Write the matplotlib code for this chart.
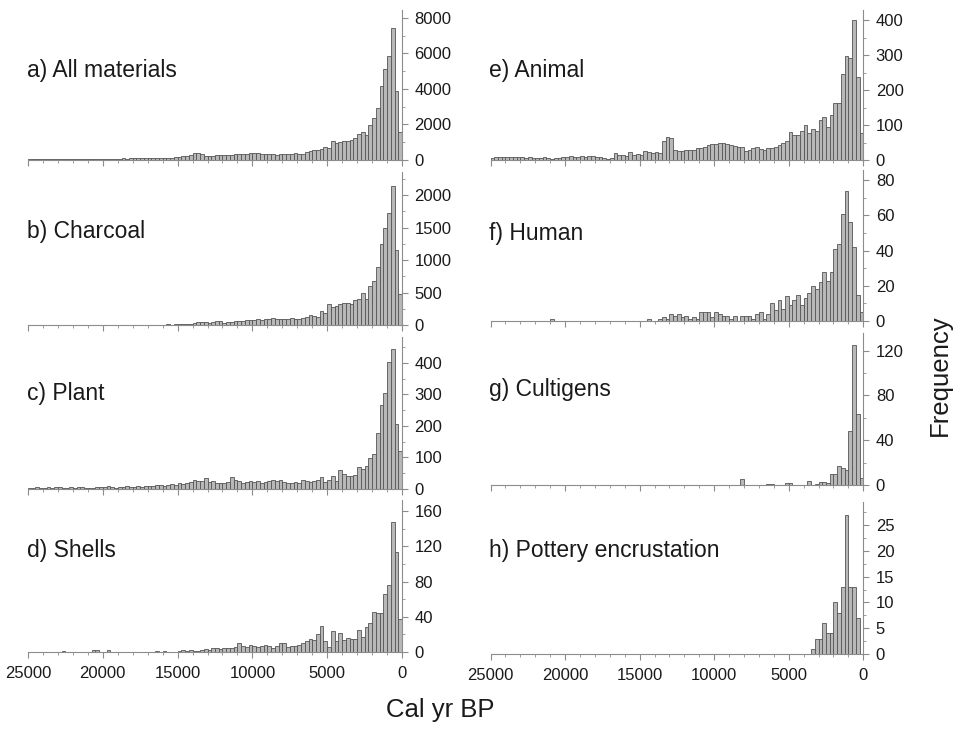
import numpy as np
import matplotlib
matplotlib.use("Agg")
import matplotlib.pyplot as plt
from matplotlib.ticker import MultipleLocator, FormatStrFormatter

plt.rcParams['font.family'] = ['Liberation Sans', 'DejaVu Sans']

# 250-year bins, oldest bin (25000-24750 cal yr BP) first
bin_edges = np.arange(25000, -1, -250)

all_materials = [
    40, 35, 45, 50, 40, 55, 45, 50, 60, 55, 45, 50, 60, 55, 50, 60, 65, 55, 60, 70,
    70, 65, 75, 80, 70, 85, 80, 90, 85, 95, 90, 100, 110, 100, 120, 110, 130, 120, 140, 160,
    180, 220, 250, 300, 380, 420, 330, 250, 230, 240, 270, 260, 280, 300, 290, 320, 310, 330, 350, 380,
    370, 420, 360, 330, 320, 310, 300, 320, 330, 310, 350, 370, 340, 330, 460, 520, 560, 540, 620, 740,
    700, 1050, 950, 1000, 1050, 1090, 1120, 1220, 1470, 1600, 1400, 1980, 2360, 2930, 4170, 5100, 5850, 7450, 3900, 1600]

charcoal = [
    2, 1, 2, 3, 2, 1, 2, 3, 2, 2, 3, 2, 3, 2, 3, 4, 3, 3, 4, 3,
    3, 4, 3, 4, 5, 4, 5, 4, 5, 6, 5, 6, 5, 6, 7, 6, 7, 8, 7, 8,
    10, 12, 15, 20, 35, 50, 48, 40, 35, 45, 55, 60, 38, 45, 50, 55, 60, 65, 75, 80,
    75, 85, 80, 90, 100, 110, 95, 90, 95, 100, 105, 100, 95, 110, 125, 150, 140, 130, 215, 180,
    320, 280, 300, 320, 340, 340, 330, 390, 400, 490, 400, 600, 680, 900, 1240, 1500, 1730, 2140, 1150, 470]

plant = [
    4, 3, 5, 4, 3, 5, 4, 6, 5, 4, 3, 5, 4, 6, 5, 4, 3, 4, 5, 6,
    6, 8, 5, 4, 6, 7, 8, 5, 6, 8, 7, 9, 8, 10, 12, 14, 10, 12, 15, 13,
    18, 15, 20, 22, 28, 26, 24, 35, 22, 25, 20, 18, 20, 22, 38, 30, 25, 20, 22, 24,
    22, 25, 20, 22, 24, 28, 25, 30, 22, 20, 18, 22, 20, 28, 25, 22, 26, 30, 38, 22,
    27, 40, 25, 60, 47, 40, 42, 45, 69, 63, 72, 98, 112, 178, 265, 305, 402, 445, 205, 120]

shells = [
    0, 0, 0, 0, 0, 0, 0, 0, 0, 1, 0, 0, 0, 0, 0, 0, 0, 2, 2, 0,
    0, 2, 0, 0, 0, 0, 0, 0, 0, 0, 0, 0, 0, 0, 1, 0, 1, 0, 0, 0,
    1, 2, 1, 2, 1, 1, 2, 3, 2, 4, 5, 3, 4, 5, 4, 6, 10, 7, 6, 8,
    7, 6, 7, 8, 7, 5, 7, 10, 10, 6, 7, 7, 8, 10, 12, 15, 14, 20, 30, 12,
    6, 24, 12, 21, 14, 16, 15, 15, 25, 17, 28, 33, 45, 44, 44, 66, 76, 148, 113, 37]

animal = [
    5, 8, 10, 9, 10, 9, 10, 8, 9, 6, 8, 5, 7, 6, 8, 5, 4, 6, 7, 8,
    9, 11, 10, 9, 12, 10, 11, 12, 10, 8, 5, 3, 6, 19, 15, 14, 12, 24, 14, 16,
    14, 27, 24, 19, 22, 20, 55, 65, 62, 28, 27, 27, 28, 30, 30, 33, 35, 38, 42, 45,
    45, 48, 50, 47, 44, 40, 38, 37, 27, 30, 34, 36, 32, 28, 35, 33, 38, 42, 50, 55,
    81, 71, 71, 84, 100, 76, 88, 84, 114, 124, 95, 128, 162, 162, 246, 298, 293, 400, 238, 78]

human = [
    0, 0, 0, 0, 0, 0, 0, 0, 0, 0, 0, 0, 0, 0, 0, 0, 1, 0, 0, 0,
    0, 0, 0, 0, 0, 0, 0, 0, 0, 0, 0, 0, 0, 0, 0, 0, 0, 0, 0, 0,
    0, 0, 1, 0, 0, 1, 2, 1, 4, 3, 4, 2, 3, 1, 2, 1, 5, 5, 5, 2,
    5, 4, 3, 3, 1, 3, 0, 3, 3, 3, 1, 4, 5, 1, 4, 10, 6, 12, 7, 14,
    9, 12, 15, 9, 13, 16, 20, 18, 22, 28, 23, 28, 41, 44, 61, 74, 56, 42, 15, 5]

cultigens = [0] * 60 + [
    0, 0, 0, 0, 0, 0, 0, 5, 0, 0, 0, 0, 0, 0, 1, 1, 0, 0, 0, 2,
    2, 0, 0, 0, 0, 4, 0, 1, 3, 3, 2, 10, 10, 17, 15, 13, 48, 125, 63, 6]

pottery = [0] * 80 + [
    0, 0, 0, 0, 0, 0, 1, 3, 3, 6, 4, 4, 10, 8, 13, 27, 13, 13, 7, 0]

titles = ['a) All materials', 'b) Charcoal', 'c) Plant', 'd) Shells',
          'e) Animal', 'f) Human', 'g) Cultigens', 'h) Pottery encrustation']
series = [all_materials, charcoal, plant, shells, animal, human, cultigens, pottery]
y_top = [8450, 2354, 482, 172.5, 429, 85.8, 135.8, 29.5]
y_major = [2000, 500, 100, 40, 100, 20, 40, 5]
y_minor = [1000, 250, 50, 20, 50, 10, 20, 2.5]

# axes boxes in pixels: left, right, top, bottom
boxes = [(28, 402, 10, 160), (28, 402, 172, 325), (28, 402, 337, 489), (28, 402, 500, 652),
         (490.5, 863.3, 10, 160), (490.5, 863.3, 170, 321), (490.5, 863.3, 333, 485),
         (490.5, 863.3, 502, 654)]
label_y = [0.60, 0.61, 0.63, 0.67, 0.60, 0.58, 0.63, 0.68]

W, H = 955, 736
fig = plt.figure(figsize=(W / 100, H / 100), dpi=100)
axis_grey = '#8c8c8c'

centers = bin_edges[:-1] - 125
for i, (title, counts) in enumerate(zip(titles, series)):
    l, r, t, b = boxes[i]
    ax = fig.add_axes([l / W, 1 - b / H, (r - l) / W, (b - t) / H])
    ax.bar(centers, counts, width=250, color='#b8b8b8', edgecolor='#555555',
           linewidth=0.6, zorder=2)
    ax.set_xlim(25000, 0)
    ax.set_ylim(0, y_top[i])

    for side in ['top', 'left']:
        ax.spines[side].set_visible(False)
    for side in ['right', 'bottom']:
        ax.spines[side].set_color(axis_grey)
        ax.spines[side].set_linewidth(0.8)
        ax.spines[side].set_zorder(3)

    ax.yaxis.tick_right()
    ax.yaxis.set_major_locator(MultipleLocator(y_major[i]))
    ax.yaxis.set_minor_locator(MultipleLocator(y_minor[i]))
    ax.xaxis.set_major_locator(MultipleLocator(5000))
    ax.xaxis.set_minor_locator(MultipleLocator(1000))
    ax.xaxis.set_major_formatter(FormatStrFormatter('%d'))
    ax.yaxis.set_major_formatter(FormatStrFormatter('%d'))
    ax.tick_params(which='both', direction='out', color=axis_grey, labelcolor='#1a1a1a',
                   labelsize=12)
    ax.tick_params(which='major', length=4, width=0.8)
    ax.tick_params(which='minor', length=2.5, width=0.6)
    ax.tick_params(axis='y', pad=5)
    ax.tick_params(axis='x', pad=6, labelbottom=(i in (3, 7)))

    ax.text(-0.003, label_y[i], title, transform=ax.transAxes,
            ha='left', va='center', fontsize=16.5, color='#1a1a1a')

fig.text(440 / W, 1 - 710 / H, 'Cal yr BP', ha='center', va='center', fontsize=18.5,
         color='#1a1a1a')
fig.text(940 / W, 1 - 375 / H, 'Frequency', ha='center', va='center', rotation=90,
         fontsize=18.5, color='#1a1a1a')

fig.savefig('out.png', dpi=100)
